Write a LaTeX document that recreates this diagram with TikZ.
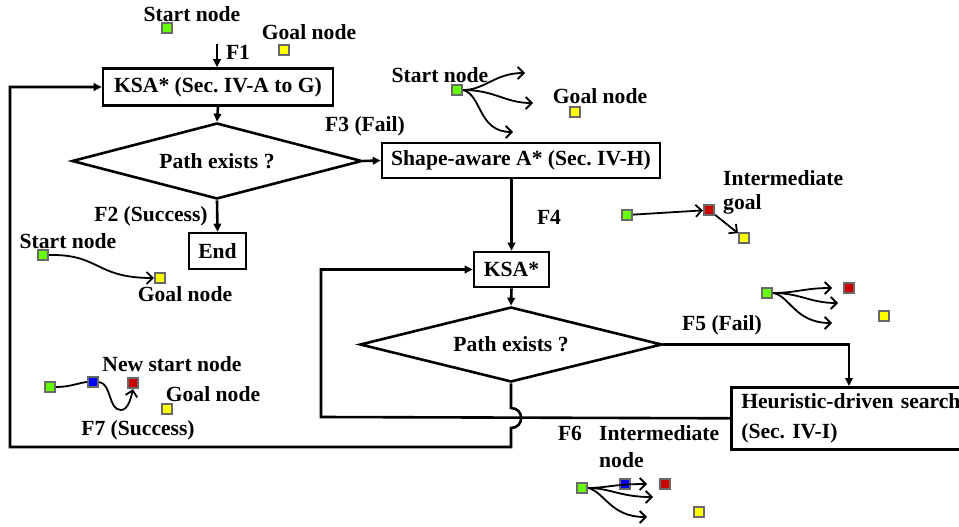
\documentclass[tikz,border=0pt]{standalone}
\usepackage{fontspec}
\setmainfont{Liberation Serif}
\frenchspacing
\usetikzlibrary{shapes.geometric,arrows.meta}
\definecolor{sqgreen}{RGB}{102,255,0}
\definecolor{sqyellow}{RGB}{255,255,0}
\definecolor{sqred}{RGB}{204,0,0}
\definecolor{sqblue}{RGB}{0,0,255}
\definecolor{sqborder}{RGB}{105,105,105}
\begin{document}
\begin{tikzpicture}[x=1pt,y=-1pt,
  every node/.style={font=\fontsize{21.6}{30}\selectfont\bfseries},
  box/.style={draw,line width=2.6pt,inner sep=0pt},
  dia/.style={draw,diamond,aspect=3.8,line width=2.6pt,inner sep=0pt},
  flow/.style={line width=2.6pt,-{Triangle[length=8pt,width=7.5pt]}},
  sq/.style={draw=sqborder,line width=2.2pt,minimum size=10pt,inner sep=0pt},
  ex/.style={line width=1.8pt,-{Straight Barb[length=6pt,width=12pt]}},
  exl/.style={line width=1.8pt},
  lbl/.style={anchor=base,inner sep=0pt},
  lbll/.style={anchor=base west,inner sep=0pt}]
\useasboundingbox (0,0) rectangle (959,527);

% flowchart nodes
\node[box,minimum width=230,minimum height=37] (ksa) at (218,87) {KSA* (Sec. IV-A to G)};
\node[dia,minimum width=290,minimum height=76] (d1) at (217,161) {Path exists ?};
\node[box,minimum width=278,minimum height=35] (sa) at (521,160.5) {Shape-aware A* (Sec. IV-H)};
\node[box,minimum width=57,minimum height=36] (end) at (217.5,251) {End};
\node[box,minimum width=75,minimum height=35] (ksa2) at (511.5,269.5) {KSA*};
\node[dia,minimum width=302,minimum height=75] (d2) at (511,344.5) {Path exists ?};
\node[box,anchor=north west,minimum width=245,minimum height=62,align=left,text width=225,inner xsep=10pt] (hds) at (730,386) {Heuristic-driven search\\(Sec. IV-I)};

% flowchart connectors
\coordinate (f1s) at (217,44);
\draw[flow] (f1s) -- (f1s |- ksa.north);
\draw[flow] (ksa.south) -- (d1.north);
\draw[flow] (d1.east) -- (sa.west);
\draw[flow] (d1.south) -- (end.north);
\draw[flow] (ksa2.north |- sa.south) -- (ksa2.north);
\draw[flow] (ksa2.south) -- (d2.north);
\coordinate (hin) at (849,386);
\draw[flow] (d2.east) -| (hin);
\coordinate (c1) at (321,417);
\draw[flow] (hds.west) -- (c1) |- (ksa2.west);
\coordinate (j1) at (511,408);
\coordinate (j2) at (511,428);
\coordinate (c2) at (511,447);
\coordinate (c3) at (10,447);
\draw[flow] (d2.south) -- (j1) .. controls (524.5,408) and (524.5,428) .. (j2) -- (c2) -- (c3) |- (ksa.west);

% labels
\node[lbl] (t1) at (192,22) {Start node};
\node[lbl] (t2) at (309,40) {Goal node};
\node[lbl] (tf1) at (238,60) {F1};
\node[lbl] (tf3) at (365,131) {F3 (Fail)};
\node[lbl] (t3) at (440,82) {Start node};
\node[lbl] (t4) at (600,103) {Goal node};
\node[lbl] (tf2) at (151,221) {F2 (Success)};
\node[lbl] (tf4) at (549,224) {F4};
\node[lbll] (t5) at (723,185) {Intermediate};
\node[lbll] (t6) at (723,209) {goal};
\node[lbl] (t7) at (68,248) {Start node};
\node[lbl] (t8) at (185,301) {Goal node};
\node[lbl] (tf5) at (722,330) {F5 (Fail)};
\node[lbl] (t9) at (172,371) {New start node};
\node[lbl] (t10) at (213,401) {Goal node};
\node[lbl] (tf7) at (138,435) {F7 (Success)};
\node[lbl] (tf6) at (570,440) {F6};
\node[lbll] (t11) at (599,440) {Intermediate};
\node[lbll] (t12) at (599,467) {node};

% example: top
\node[sq,fill=sqgreen] (s0) at (167,28) {};
\node[sq,fill=sqyellow] (g0) at (284,50) {};

% example: top right
\node[sq,fill=sqgreen] (s1) at (457,90) {};
\node[sq,fill=sqyellow] (g1) at (575,112) {};
\coordinate (a1) at (525,73);
\coordinate (a2) at (533,103);
\coordinate (a3) at (513,132);
\draw[ex] (s1.east) .. controls (485,90) and (495,73) .. (a1);
\draw[ex] (s1.east) .. controls (495,90) and (505,103) .. (a2);
\draw[ex] (s1.east) .. controls (482,95) and (478,132) .. (a3);

% example: intermediate goal
\node[sq,fill=sqgreen] (s2) at (627,215) {};
\node[sq,fill=sqred] (r2) at (709,210) {};
\node[sq,fill=sqyellow] (g2) at (744,238) {};
\draw[ex] (s2) -- (r2);
\draw[ex] (r2) -- (g2);

% example: bottom left
\node[sq,fill=sqgreen] (s3) at (43,255) {};
\node[sq,fill=sqyellow] (g3) at (160,278) {};
\draw[ex] (s3.east) .. controls (100,254) and (95,278) .. (g3.west);

% example: F5
\node[sq,fill=sqgreen] (s4) at (767,293) {};
\node[sq,fill=sqred] (r4) at (849,288) {};
\node[sq,fill=sqyellow] (g4) at (884,316) {};
\coordinate (b1) at (832,288);
\coordinate (b2) at (838,303);
\coordinate (b3) at (832,323);
\draw[ex] (s4.east) .. controls (795,293) and (805,288) .. (b1);
\draw[ex] (s4.east) .. controls (800,293) and (810,303) .. (b2);
\draw[ex] (s4.east) .. controls (790,296) and (795,323) .. (b3);

% example: F7
\node[sq,fill=sqgreen] (s5) at (50,387) {};
\node[sq,fill=sqblue] (bl5) at (93,382) {};
\node[sq,fill=sqred] (r5) at (133,383) {};
\node[sq,fill=sqyellow] (g5) at (167,409) {};
\draw[exl] (s5.east) .. controls (70,387) and (78,383) .. (bl5.west);
\draw[ex] (bl5.east) .. controls (112,384) and (108,410) .. (121,410) .. controls (128,410) and (131,398) .. (r5.south);

% example: F6
\node[sq,fill=sqgreen] (s6) at (582,488) {};
\node[sq,fill=sqblue] (bl6) at (625,484) {};
\node[sq,fill=sqred] (r6) at (665,484) {};
\node[sq,fill=sqyellow] (g6) at (699,512) {};
\coordinate (e1) at (647,484);
\coordinate (e2) at (653,497);
\coordinate (e3) at (647,517);
\draw[ex] (s6.east) .. controls (605,488) and (615,484) .. (e1);
\draw[ex] (s6.east) .. controls (610,488) and (620,497) .. (e2);
\draw[ex] (s6.east) .. controls (605,492) and (610,517) .. (e3);
\end{tikzpicture}
\end{document}
